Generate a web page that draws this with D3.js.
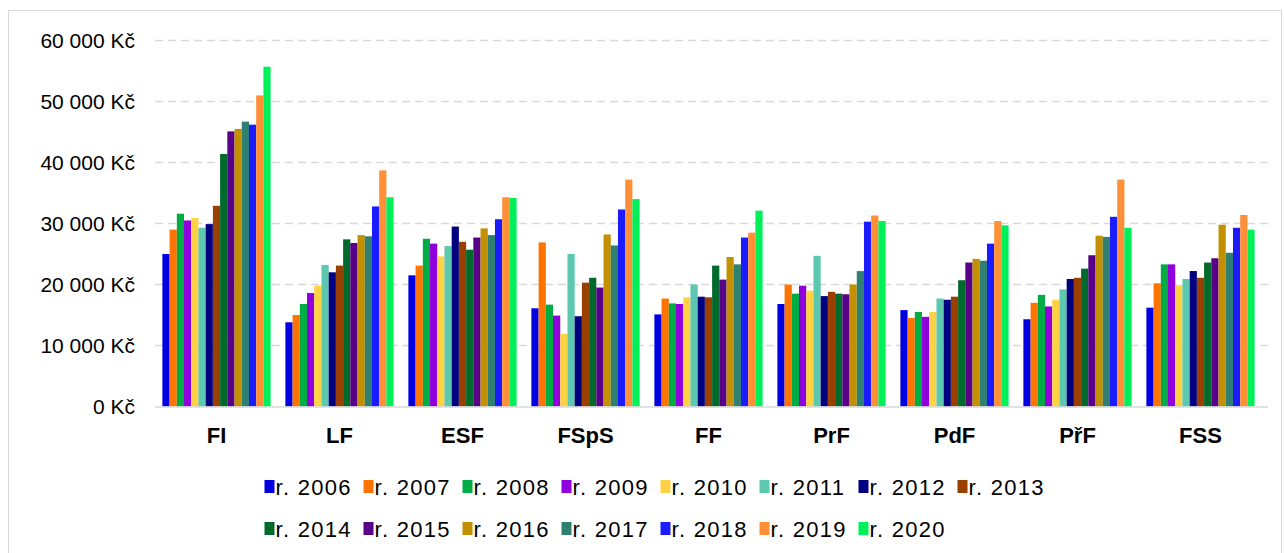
<!DOCTYPE html>
<html lang="cs">
<head>
    <meta charset="UTF-8">
    <title>Průměrná mzda podle fakult</title>
    <style>
        body {
            margin: 0;
            padding: 0;
            background-color: #ffffff;
        }
        svg {
            display: block;
            font-family: "Liberation Sans", Arial, sans-serif;
        }
        .grid line {
            stroke: #d9d9d9;
            stroke-width: 1.3;
            stroke-dasharray: 8 5;
        }
        .y-label {
            font-size: 21px;
            fill: #000;
            text-anchor: end;
        }
        .cat-label {
            font-size: 22px;
            font-weight: bold;
            text-anchor: middle;
        }
        .legend-text {
            font-size: 22px;
            letter-spacing: 1.3px;
        }
    </style>
</head>
<body>
    <svg width="1284" height="553"></svg>

    <script src="https://d3js.org/d3.v7.min.js"></script>
    <script>
        const faculties = ["FI", "LF", "ESF", "FSpS", "FF", "PrF", "PdF", "PřF", "FSS"];
        const years = ["2006", "2007", "2008", "2009", "2010", "2011", "2012", "2013",
                       "2014", "2015", "2016", "2017", "2018", "2019", "2020"];
        const yTicks = [0, 10000, 20000, 30000, 40000, 50000, 60000];

        // values per year, in the order of faculties
        const v2006 = [25000, 13800, 21500, 16100, 15100, 16800, 15800, 14300, 16200];
        const v2007 = [29000, 15000, 23100, 26900, 17700, 20000, 14500, 17000, 20200];
        const v2008 = [31600, 16800, 27500, 16700, 16900, 18500, 15500, 18300, 23300];
        const v2009 = [30500, 18600, 26700, 14900, 16800, 19800, 14700, 16400, 23300];
        const v2010 = [30900, 19800, 24600, 11900, 17900, 19000, 15500, 17500, 19900];
        const v2011 = [29300, 23200, 26300, 25000, 20000, 24700, 17700, 19200, 20900];
        const v2012 = [29900, 22000, 29500, 14800, 18000, 18100, 17500, 20900, 22200];
        const v2013 = [32900, 23100, 27000, 20300, 17900, 18800, 18000, 21100, 21100];
        const v2014 = [41400, 27400, 25700, 21100, 23100, 18500, 20700, 22600, 23600];
        const v2015 = [45100, 26800, 27700, 19500, 20800, 18400, 23600, 24800, 24300];
        const v2016 = [45500, 28100, 29200, 28200, 24500, 20000, 24200, 28000, 29800];
        const v2017 = [46700, 27900, 28100, 26400, 23300, 22200, 23900, 27800, 25200];
        const v2018 = [46200, 32800, 30700, 32300, 27700, 30300, 26700, 31100, 29300];
        const v2019 = [51000, 38700, 34300, 37200, 28500, 31300, 30400, 37200, 31400];
        const v2020 = [55700, 34300, 34200, 34000, 32100, 30400, 29700, 29300, 29000];

        const colors = ["#0000e0", "#ff7300", "#00ad45", "#9000dd", "#ffd243",
                        "#5cc8b0", "#000080", "#993f00", "#00692c", "#580088",
                        "#c29000", "#2f8070", "#1b1bff", "#ff9038", "#00f05a"];

        const seriesValues = [v2006, v2007, v2008, v2009, v2010, v2011, v2012, v2013,
                              v2014, v2015, v2016, v2017, v2018, v2019, v2020];

        // flatten into bar records
        const bars = [];
        faculties.forEach((f, i) => {
            years.forEach((yr, j) => {
                bars.push({faculty: f, year: yr, value: seriesValues[j][i]});
            });
        });

        const svg = d3.select("svg");

        // outer frame
        svg.append("rect")
            .attr("x", 8.5).attr("y", 10.5)
            .attr("width", 1273).attr("height", 560)
            .attr("fill", "none")
            .attr("stroke", "#d9d9d9");

        const plot = {left: 155, right: 1262, top: 40.5, bottom: 406.5};

        const x0 = d3.scaleBand()
            .domain(faculties)
            .range([plot.left, plot.right])
            .paddingInner(0.12)
            .paddingOuter(0.06);

        const x1 = d3.scaleBand()
            .domain(years)
            .range([0, x0.bandwidth()]);

        const y = d3.scaleLinear()
            .domain([0, 60000])
            .range([plot.bottom, plot.top]);

        const color = d3.scaleOrdinal().domain(years).range(colors);

        const czk = d3.formatLocale({
            decimal: ",",
            thousands: "\u00a0",
            grouping: [3],
            currency: ["", "\u00a0Kč"]
        }).format("$,.0f");

        // gridlines
        svg.append("g")
            .attr("class", "grid")
            .selectAll("line")
            .data(yTicks.filter(d => d > 0))
            .join("line")
            .attr("x1", plot.left)
            .attr("x2", plot.right + 6)
            .attr("y1", d => y(d))
            .attr("y2", d => y(d));

        // y axis labels
        const yAxis = d3.axisLeft(y)
            .tickValues(yTicks)
            .tickFormat(czk)
            .tickSize(0)
            .tickPadding(20);

        svg.append("g")
            .attr("transform", `translate(${plot.left},0)`)
            .call(yAxis)
            .call(g => g.select(".domain").remove())
            .selectAll("text")
            .attr("class", "y-label")
            .attr("font-size", null)
            .attr("font-family", null);

        // bars
        svg.append("g")
            .selectAll("rect")
            .data(bars)
            .join("rect")
            .attr("x", d => x0(d.faculty) + x1(d.year))
            .attr("y", d => y(d.value))
            .attr("width", x1.bandwidth())
            .attr("height", d => y(0) - y(d.value))
            .attr("fill", d => color(d.year));

        // x axis line
        svg.append("line")
            .attr("x1", plot.left)
            .attr("x2", plot.right + 6)
            .attr("y1", plot.bottom + 0.5)
            .attr("y2", plot.bottom + 0.5)
            .attr("stroke", "#d9d9d9")
            .attr("stroke-width", 1.5);

        // category labels
        svg.append("g")
            .selectAll("text")
            .data(faculties)
            .join("text")
            .attr("class", "cat-label")
            .attr("x", d => x0(d) + x0.bandwidth() / 2)
            .attr("y", 443)
            .text(d => d);

        // legend, two rows
        const perRow = 8;
        const legend = svg.append("g")
            .selectAll("g")
            .data(years)
            .join("g")
            .attr("transform", (d, i) => {
                const col = i % perRow;
                const row = Math.floor(i / perRow);
                return `translate(${264.5 + col * 99},${487 + row * 42})`;
            });

        legend.append("rect")
            .attr("x", 0)
            .attr("y", -7)
            .attr("width", 10)
            .attr("height", 13)
            .attr("fill", d => color(d));

        legend.append("text")
            .attr("class", "legend-text")
            .attr("x", 11)
            .attr("y", 0)
            .attr("dy", "0.35em")
            .text(d => "r. " + d);
    </script>
</body>
</html>
